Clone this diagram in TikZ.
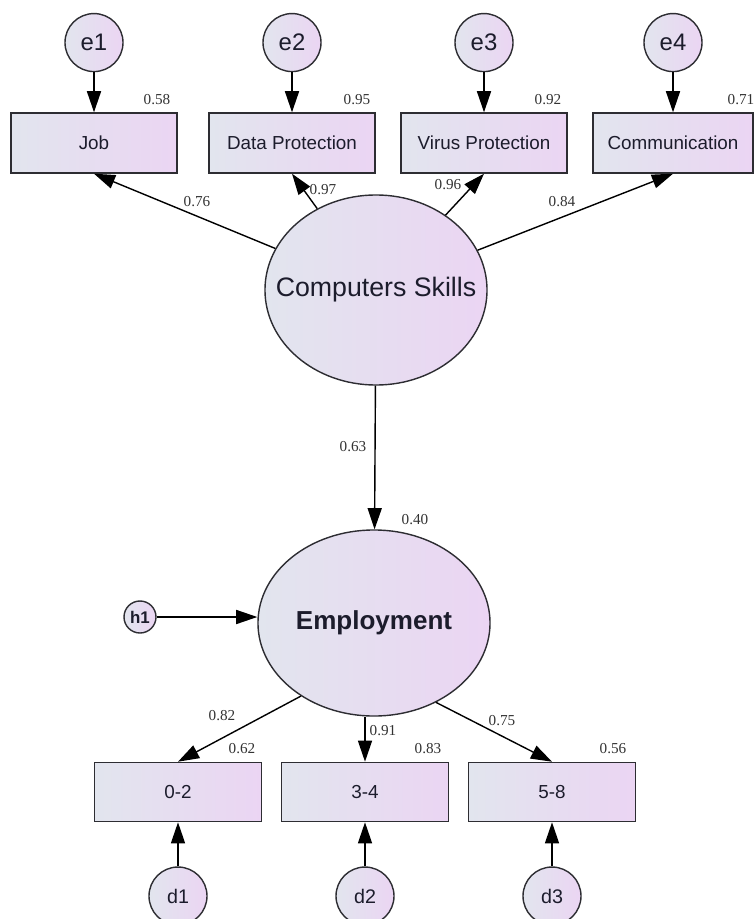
\documentclass[tikz,border=0pt]{standalone}
\usepackage{fontspec}
\setmainfont{Liberation Serif}
\newfontfamily\arial{Liberation Sans}
\usetikzlibrary{positioning,arrows.meta,shapes.geometric}

\definecolor{fillL}{RGB}{226,229,238}
\definecolor{fillR}{RGB}{235,213,243}
\definecolor{ink}{RGB}{28,28,44}
\definecolor{edge}{RGB}{45,45,50}

\begin{document}
\begin{tikzpicture}[
  x=0.025cm, y=-0.025cm,
  node distance=1cm,
  obs/.style={draw=edge, line width=1pt, left color=fillL, right color=fillR,
              minimum width=4.15cm, minimum height=1.5cm, inner sep=0pt,
              text=ink, font=\arial\fontsize{13.4}{15}\selectfont},
  lat/.style={ellipse, draw=edge, line width=1pt, left color=fillL,
              right color=fillR, inner sep=0pt, text=ink},
  err/.style={circle, draw=edge, line width=1pt, left color=fillL,
              right color=fillR, minimum size=1.45cm, inner sep=0pt, text=ink,
              font=\arial\fontsize{17}{19}\selectfont},
  arrow/.style={-{Triangle[length=15pt,width=10pt]}, line width=1pt},
  num/.style={font=\fontsize{10.8}{12}\selectfont, text=black!80, inner sep=0pt}
]
\useasboundingbox (0,0) rectangle (754,919);

% indicators of computer skills
\node[obs] (job)  at (94,143)  {Job};
\node[obs] (dp)   at (292,143) {Data Protection};
\node[obs] (vp)   at (484,143) {Virus Protection};
\node[obs, minimum width=4cm] (comm) at (673,143) {Communication};
\node[err, above=of job]  (e1) {e1};
\node[err, above=of dp]   (e2) {e2};
\node[err, above=of vp]   (e3) {e3};
\node[err, above=of comm] (e4) {e4};

% latent variables
\node[lat, minimum width=5.55cm, minimum height=4.75cm, inner xsep=-0.6cm,
      font=\arial\fontsize{19}{21}\selectfont] (cs) at (376,290) {Computers Skills};
\node[lat, minimum width=5.8cm, minimum height=4.65cm, inner xsep=-0.3cm,
      font=\arial\bfseries\fontsize{18.5}{21}\selectfont] (emp) at (374,623) {Employment};
\node[err, minimum size=0.8cm, font=\arial\bfseries\fontsize{12}{14}\selectfont] (h1) at (140,617) {h1};

% indicators of employment
\node[obs, minimum width=4.18cm, minimum height=1.48cm] (b02) at (178,792) {0-2};
\node[obs, minimum width=4.18cm, minimum height=1.48cm] (b34) at (365,792) {3-4};
\node[obs, minimum width=4.18cm, minimum height=1.48cm] (b58) at (552,792) {5-8};
\node[err, below=1.1cm of b02, font=\arial\fontsize{14}{16}\selectfont] (d1) {d1};
\node[err, below=1.1cm of b34, font=\arial\fontsize{14}{16}\selectfont] (d2) {d2};
\node[err, below=1.1cm of b58, font=\arial\fontsize{14}{16}\selectfont] (d3) {d3};

% arrows
\draw[arrow] (e1) -- (job);
\draw[arrow] (e2) -- (dp);
\draw[arrow] (e3) -- (vp);
\draw[arrow] (e4) -- (comm);
\draw[arrow] (cs) -- (job.south);
\draw[arrow] (cs) -- (dp.south);
\draw[arrow] (cs) -- (vp.south);
\draw[arrow] (cs) -- (comm.south);
\draw[arrow] (cs) -- (emp);
\draw[arrow] (h1) -- (h1 -| emp.west);
\draw[arrow] (emp.-135) -- (b02.north);
\draw[arrow] (b34.north |- emp.south) -- (b34.north);
\draw[arrow] (emp.-52) -- (b58.north);
\draw[arrow] (d1) -- (b02);
\draw[arrow] (d2) -- (b34);
\draw[arrow] (d3) -- (b58);

% estimates
\node[num] (r-job)  at (157,100) {0.58};
\node[num] (r-dp)   at (357,100) {0.95};
\node[num] (r-vp)   at (548,100) {0.92};
\node[num] (r-comm) at (741,100) {0.71};
\node[num] (l-job)  at (197,202) {0.76};
\node[num] (l-dp)   at (323,190) {0.97};
\node[num] (l-vp)   at (448,185) {0.96};
\node[num] (l-comm) at (562,202) {0.84};
\node[num] (l-emp)  at (353,447) {0.63};
\node[num] (r-emp)  at (415,520) {0.40};
\node[num] (l-b02)  at (222,716) {0.82};
\node[num] (r-b02)  at (242,749) {0.62};
\node[num] (l-b34)  at (383,731) {0.91};
\node[num] (r-b34)  at (428,749) {0.83};
\node[num] (l-b58)  at (502,721) {0.75};
\node[num] (r-b58)  at (613,749) {0.56};
\end{tikzpicture}
\end{document}
